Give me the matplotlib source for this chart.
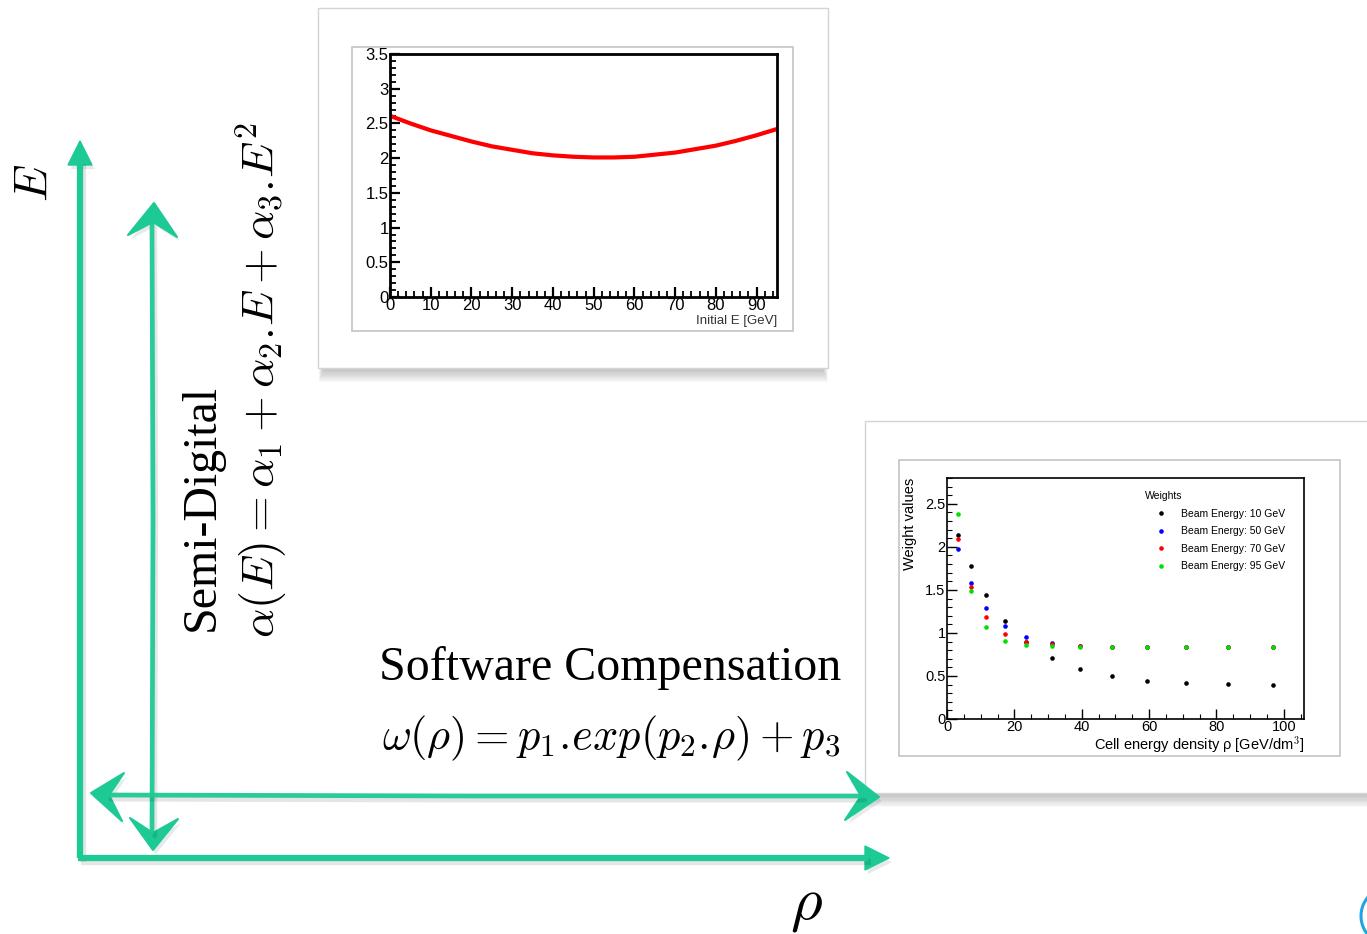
import matplotlib
matplotlib.use("Agg")
import matplotlib.pyplot as plt
import matplotlib.patches as mpatches
import matplotlib.patheffects as pe
from matplotlib.ticker import MultipleLocator, FuncFormatter

plt.rcParams['mathtext.fontset'] = 'cm'
plt.rcParams['font.family'] = ['Liberation Sans', 'DejaVu Sans']

W, H = 1367, 934
TEAL = '#1dc994'

energie_gev = [0, 5, 10, 15, 20, 25, 30, 35, 40, 45, 50, 55, 60, 65, 70, 75, 80, 85, 90, 95]
alpha_vals = [2.61, 2.50, 2.40, 2.32, 2.24, 2.17, 2.12, 2.07, 2.04, 2.02,
              2.01, 2.01, 2.02, 2.05, 2.08, 2.13, 2.18, 2.25, 2.33, 2.42]

# poids vs densite d'energie (graphe du bas)
rho_vals = [3.4, 7.1, 11.5, 17.1, 23.6, 31.1, 39.6, 49.0, 59.5, 71.0, 83.5, 96.9]
w_10 = [2.14, 1.775, 1.44, 1.136, 0.89, 0.705, 0.578, 0.496, 0.446, 0.419, 0.403, 0.395]
w_50 = [1.97, 1.58, 1.29, 1.08, 0.953, 0.884, 0.849, 0.842, 0.841, 0.84, 0.84, 0.84]
w_70 = [2.09, 1.535, 1.186, 0.988, 0.895, 0.868, 0.845, 0.841, 0.84, 0.84, 0.84, 0.84]
w_95 = [2.38, 1.49, 1.07, 0.907, 0.857, 0.845, 0.842, 0.84, 0.84, 0.838, 0.838, 0.838]
beam_labels = ['Beam Energy: 10 GeV', 'Beam Energy: 50 GeV',
               'Beam Energy: 70 GeV', 'Beam Energy: 95 GeV']
beam_colors = ['black', '#0000ff', '#ff0000', '#00e000']


def px_rect(x0, y0, x1, y1):
    return [x0 / W, 1 - y1 / H, (x1 - x0) / W, (y1 - y0) / H]


def fmt_root(v, pos):
    return f'{v:g}'


def carte(ax, x0, y0, w, h, x1, y1, w1, h1):
    # ombre douce sous la carte
    for k in range(12):
        ax.add_patch(mpatches.Rectangle((x0 + 6 - k * 0.5, y0 + h - 3), w - 12 + k, 3 + k * 1.3,
                                        facecolor='#707070', edgecolor='none', alpha=0.045))
    ax.add_patch(mpatches.Rectangle((x0, y0), w, h, facecolor='white', edgecolor='#d4d4d4', lw=1))
    ax.add_patch(mpatches.Rectangle((x1, y1), w1, h1, facecolor='white', edgecolor='#c4c4c4', lw=1.2))


def fleche_pleine(ax, pts, tete):
    ax.plot([p[0] for p in pts], [p[1] for p in pts], color=TEAL, lw=4.5, solid_capstyle='butt',
            path_effects=[pe.SimpleLineShadow(offset=(2, -3), alpha=0.1), pe.Normal()])
    tri = mpatches.Polygon(tete, closed=True, color=TEAL)
    tri.set_path_effects([pe.SimplePatchShadow(offset=(2, -3), alpha=0.1), pe.Normal()])
    ax.add_patch(tri)


def fleche_croquis(ax, xs, ys):
    ax.plot(xs, ys, color=TEAL, lw=3.4, solid_capstyle='round', alpha=0.95,
            path_effects=[pe.SimpleLineShadow(offset=(2, -3), alpha=0.1), pe.Normal()])


def chevron(ax, pts):
    p = mpatches.Polygon(pts, closed=True, color=TEAL, lw=1.5, joinstyle='round')
    p.set_path_effects([pe.SimplePatchShadow(offset=(2, -3), alpha=0.1), pe.Normal()])
    ax.add_patch(p)


fig = plt.figure(figsize=(13.67, 9.34), dpi=100)
bg = fig.add_axes([0, 0, 1, 1])
bg.set_xlim(0, W)
bg.set_ylim(H, 0)
bg.axis('off')

carte(bg, 318, 8, 510, 360, 352, 47, 441, 284)
carte(bg, 865, 421, 520, 372, 899, 460, 441, 296)

# axes E / rho
fleche_pleine(bg, [(80, 858), (80, 160)], [(68, 165), (92, 165), (80, 141)])
fleche_pleine(bg, [(78, 858), (868, 858)], [(865, 846), (865, 870), (889, 858)])

# fleches dessinees a la main
fleche_croquis(bg, [152, 153, 152], [224, 520, 832])
fleche_croquis(bg, [108, 480, 862], [795, 796, 796])
chevron(bg, [(154, 203), (128, 235), (153, 222), (177, 237)])
chevron(bg, [(153, 850), (130, 818), (153, 833), (178, 819)])
chevron(bg, [(91, 793), (124, 773), (109, 795), (122, 821)])
chevron(bg, [(879, 797), (847, 772), (861, 796), (845, 820)])

bg.text(35, 183, r'$E$', rotation=90, fontsize=34, ha='center', va='center')
bg.text(202, 507, 'Semi-Digital', rotation=90, family='Liberation Serif', fontsize=34.5,
        ha='center', va='center')
bg.text(261, 380, r'$\alpha(E) = \alpha_1 + \alpha_2.\!E + \alpha_3.\!E^2$', rotation=90,
        fontsize=33, ha='center', va='center')
bg.text(610, 668, 'Software Compensation', family='Liberation Serif', fontsize=34.5,
        ha='center', va='center')
bg.text(611, 738, r'$\omega(\rho) = p_1.\!exp(p_2.\!\rho) + p_3$', fontsize=32,
        ha='center', va='center')
bg.text(806, 905, r'$\rho$', fontsize=44, ha='center', va='center')
bg.add_patch(mpatches.Arc((1390, 916), 58, 58, theta1=115, theta2=235, color='#1ea5e6', lw=2.2))

# graphe alpha(E)
ax1 = fig.add_axes(px_rect(390, 54, 777, 297))
ax1.plot(energie_gev, alpha_vals, color='red', lw=3)
ax1.set_xlim(0, 95)
ax1.set_ylim(0, 3.5)
ax1.xaxis.set_major_locator(MultipleLocator(10))
ax1.xaxis.set_minor_locator(MultipleLocator(2))
ax1.yaxis.set_major_locator(MultipleLocator(0.5))
ax1.yaxis.set_minor_locator(MultipleLocator(0.1))
ax1.xaxis.set_major_formatter(FuncFormatter(fmt_root))
ax1.yaxis.set_major_formatter(FuncFormatter(fmt_root))
ax1.tick_params(which='both', direction='in', top=False, right=False, labelsize=12, pad=1)
ax1.tick_params(which='major', length=7, width=1.6)
ax1.tick_params(which='minor', length=4, width=1.3)
for s in ax1.spines.values():
    s.set_linewidth(2)
ax1.set_xlabel('Initial E [GeV]', loc='right', fontsize=9.5, labelpad=1, color='#333333')

# graphe des poids
ax2 = fig.add_axes(px_rect(947, 478, 1304, 719))
for w, c, lab in zip([w_10, w_50, w_70, w_95], beam_colors, beam_labels):
    ax2.plot(rho_vals, w, 'o', ms=3.3, color=c, mec='none', label=lab)
ax2.set_xlim(0, 106)
ax2.set_ylim(0, 2.8)
ax2.xaxis.set_major_locator(MultipleLocator(20))
ax2.xaxis.set_minor_locator(MultipleLocator(5))
ax2.yaxis.set_major_locator(MultipleLocator(0.5))
ax2.yaxis.set_minor_locator(MultipleLocator(0.1))
ax2.xaxis.set_major_formatter(FuncFormatter(fmt_root))
ax2.yaxis.set_major_formatter(FuncFormatter(fmt_root))
ax2.tick_params(which='both', direction='in', top=False, right=False, labelsize=10.5, pad=1)
ax2.tick_params(which='major', length=7, width=1)
ax2.tick_params(which='minor', length=3.5, width=0.8)
for s in ax2.spines.values():
    s.set_linewidth(1.2)
ax2.set_ylabel('Weight values', loc='top', fontsize=10.5, labelpad=6)
ax2.set_xlabel(r'Cell energy density ρ [GeV/dm$^3$]', loc='right', fontsize=10.5, labelpad=0)
ax2.legend(title='Weights', frameon=False, fontsize=7.5, title_fontsize=7.5, loc='upper left',
           bbox_to_anchor=(0.555, 0.945), borderpad=0, alignment='left', handlelength=3,
           handletextpad=0.4, labelspacing=0.72, borderaxespad=0)

fig.savefig('out.png', dpi=100)
